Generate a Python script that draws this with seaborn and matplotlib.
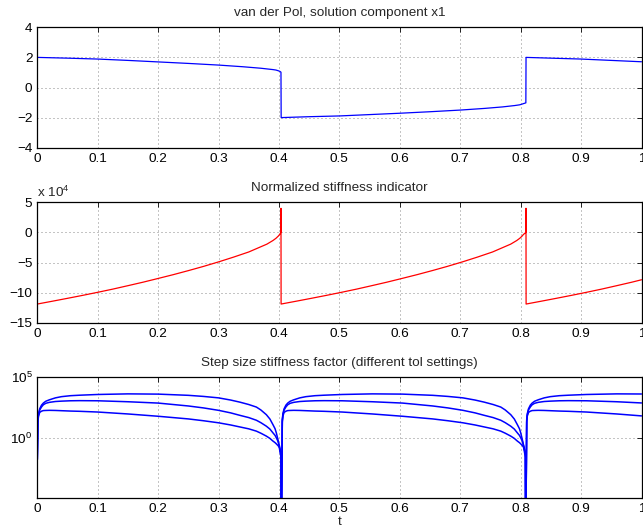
import matplotlib
matplotlib.use("Agg")
import matplotlib.pyplot as plt
from matplotlib.ticker import FixedLocator, NullLocator, LogFormatterMathtext
import seaborn as sns

# ---------------- data ----------------
# Panel 1: van der Pol solution component x1
t_x1 = [0.0, 0.05, 0.10, 0.15, 0.20, 0.25, 0.30, 0.34, 0.37, 0.39, 0.395, 0.399, 0.4015, 0.4033,
        0.4036, 0.45, 0.50, 0.55, 0.60, 0.65, 0.70, 0.74, 0.77, 0.79, 0.7985, 0.8025, 0.8055, 0.8086,
        0.8089, 0.85, 0.90, 0.95, 1.00]
x1 = [2.00, 1.95, 1.89, 1.80, 1.70, 1.60, 1.49, 1.38, 1.28, 1.19, 1.16, 1.11, 1.07, 1.02,
      -2.00, -1.94, -1.89, -1.80, -1.71, -1.61, -1.50, -1.39, -1.29, -1.20, -1.15, -1.10, -1.06, -1.02,
      2.00, 1.95, 1.89, 1.80, 1.71]

# Panel 2: normalized stiffness indicator (units of 1e4)
t_stiff = [0.0, 0.025, 0.05, 0.075, 0.10, 0.125, 0.15, 0.175, 0.20, 0.225, 0.25, 0.275,
           0.30, 0.325, 0.35, 0.365, 0.38, 0.39, 0.395, 0.399, 0.401, 0.4032,
           0.4033,
           0.4035, 0.4285, 0.4535, 0.4785, 0.5035, 0.5285, 0.5535, 0.5785, 0.6035, 0.6285,
           0.6535, 0.6785, 0.7035, 0.7285, 0.7535, 0.7685, 0.7835, 0.7935, 0.7985, 0.8025,
           0.8045, 0.8087,
           0.8088,
           0.8090, 0.8340, 0.8590, 0.8840, 0.9090, 0.9340, 0.9590, 0.9840, 1.0]
stiff_x1e4 = [-11.9, -11.43, -10.95, -10.46, -9.95, -9.42, -8.85, -8.27, -7.65, -7.02, -6.35, -5.65,
              -4.9, -4.1, -3.25, -2.6, -1.95, -1.35, -0.98, -0.6, -0.35, 0.0,
              4.0,
              -11.9, -11.43, -10.95, -10.46, -9.95, -9.42, -8.85, -8.27, -7.65, -7.02,
              -6.35, -5.65, -4.9, -4.1, -3.25, -2.6, -1.95, -1.35, -0.98, -0.6,
              -0.35, 0.0,
              4.0,
              -11.9, -11.43, -10.95, -10.46, -9.95, -9.42, -8.85, -8.27, -7.87]

# Panel 3: step size stiffness factor for three tolerance settings (log10 values)
t_factor = [0.0,
            0.0010, 0.0020, 0.0040, 0.0070, 0.0100, 0.0140, 0.0200, 0.0300, 0.0400, 0.0550,
            0.0700, 0.1000, 0.1500, 0.2000, 0.2500, 0.2750, 0.3000, 0.3200, 0.3350, 0.3500,
            0.3626, 0.3700, 0.3791, 0.3850, 0.3900, 0.3935, 0.3956, 0.3985, 0.4010, 0.4033,
            0.4036, 0.4042,
            0.4055, 0.4065, 0.4085, 0.4115, 0.4145, 0.4185, 0.4245, 0.4345, 0.4445, 0.4595,
            0.4745, 0.5045, 0.5545, 0.6045, 0.6545, 0.6795, 0.7045, 0.7245, 0.7395, 0.7545,
            0.7671, 0.7745, 0.7836, 0.7895, 0.7945, 0.7980, 0.8001, 0.8030, 0.8055, 0.8078,
            0.8081, 0.8087,
            0.8100, 0.8110, 0.8130, 0.8160, 0.8190, 0.8230, 0.8290, 0.8390, 0.8490, 0.8640,
            0.8790, 0.9090, 0.9590, 1.0]
factor_tol_loose_log10 = [
    -1.8,
    1.5, 2.0, 2.4, 2.7, 2.87, 3.02, 3.14, 3.30, 3.40, 3.48,
    3.52, 3.58, 3.63, 3.61, 3.51, 3.42, 3.30, 3.12, 2.95, 2.75,
    2.54, 2.30, 1.91, 1.55, 1.09, 0.75, 0.41, -0.2, -0.96, -1.6,
    -7.0, -7.0,
    1.5, 2.0, 2.4, 2.7, 2.87, 3.02, 3.14, 3.30, 3.40, 3.48,
    3.52, 3.58, 3.63, 3.61, 3.51, 3.42, 3.30, 3.12, 2.95, 2.75,
    2.54, 2.30, 1.91, 1.55, 1.09, 0.75, 0.41, -0.2, -0.96, -1.6,
    -7.0, -7.0,
    1.5, 2.0, 2.4, 2.7, 2.87, 3.02, 3.14, 3.30, 3.40, 3.48,
    3.52, 3.58, 3.63, 3.62]
factor_tol_mid_log10 = [
    -1.8,
    1.4, 1.9, 2.3, 2.55, 2.73, 2.85, 2.93, 3.00, 3.03, 3.06,
    3.07, 3.06, 2.98, 2.87, 2.63, 2.47, 2.27, 2.06, 1.86, 1.67,
    1.45, 1.25, 0.96, 0.72, 0.41, 0.2, 0.0, -0.3, -0.7, -1.4,
    -7.0, -7.0,
    1.4, 1.9, 2.3, 2.55, 2.73, 2.85, 2.93, 3.00, 3.03, 3.06,
    3.07, 3.06, 2.98, 2.87, 2.63, 2.47, 2.27, 2.06, 1.86, 1.67,
    1.45, 1.25, 0.96, 0.72, 0.41, 0.2, 0.0, -0.3, -0.7, -1.4,
    -7.0, -7.0,
    1.4, 1.9, 2.3, 2.55, 2.73, 2.85, 2.93, 3.00, 3.03, 3.06,
    3.07, 3.06, 2.98, 2.88]
factor_tol_tight_log10 = [
    -1.8,
    1.3, 1.8, 2.1, 2.2, 2.25, 2.26, 2.27, 2.26, 2.24, 2.21,
    2.19, 2.13, 1.97, 1.78, 1.56, 1.41, 1.24, 1.06, 0.90, 0.74,
    0.55, 0.38, 0.14, -0.05, -0.27, -0.4, -0.5, -0.65, -0.82, -1.3,
    -7.0, -7.0,
    1.3, 1.8, 2.1, 2.2, 2.25, 2.26, 2.27, 2.26, 2.24, 2.21,
    2.19, 2.13, 1.97, 1.78, 1.56, 1.41, 1.24, 1.06, 0.90, 0.74,
    0.55, 0.38, 0.14, -0.05, -0.27, -0.4, -0.5, -0.65, -0.82, -1.3,
    -7.0, -7.0,
    1.3, 1.8, 2.1, 2.2, 2.25, 2.26, 2.27, 2.26, 2.24, 2.21,
    2.19, 2.13, 1.97, 1.81]

titles = ["van der Pol, solution component x1",
          "Normalized stiffness indicator",
          "Step size stiffness factor (different tol settings)"]
x_ticks = [0, 0.1, 0.2, 0.3, 0.4, 0.5, 0.6, 0.7, 0.8, 0.9, 1]
x_tick_labels = ["0", "0.1", "0.2", "0.3", "0.4", "0.5", "0.6", "0.7", "0.8", "0.9", "1"]

# ---------------- style ----------------
sns.set_style("white")
plt.rcParams["font.family"] = ["Liberation Sans", "DejaVu Sans"]
plt.rcParams["mathtext.fontset"] = "custom"
plt.rcParams["mathtext.rm"] = "Liberation Sans"
plt.rcParams["mathtext.it"] = "Liberation Sans"
FS = 9.7

fig = plt.figure(figsize=(6.43, 5.30), dpi=100)
W, H = 643.0, 530.0
left = 37.3 / W
width = (641.5 - 37.3) / W
boxes = [(27.3, 147.7), (202.3, 322.7), (377.3, 498.3)]
axes = []
for top, bot in boxes:
    axes.append(fig.add_axes([left, 1 - bot / H, width, (bot - top) / H]))

grid_kw = dict(color="0.45", linestyle=(0, (1.2, 3.6)), linewidth=0.6)


def style(ax, title):
    ax.set_xlim(0, 1)
    ax.xaxis.set_major_locator(FixedLocator(x_ticks))
    ax.set_xticklabels(x_tick_labels)
    ax.tick_params(axis="both", which="major", direction="in", length=3.5, width=0.6,
                   top=True, right=True, labelsize=FS, colors="black")
    ax.tick_params(axis="x", pad=3.6)
    ax.tick_params(axis="y", pad=3.5)
    ax.tick_params(axis="both", which="minor", length=0)
    for sp in ax.spines.values():
        sp.set_color("black")
        sp.set_linewidth(0.9)
        sp.set_visible(True)
    ax.grid(True, **grid_kw)
    ax.set_axisbelow(True)
    ax.set_title(title, fontsize=FS, pad=8.3)
    ax.set_xlabel("")
    ax.set_ylabel("")


# Panel 1
ax = axes[0]
sns.lineplot(x=t_x1, y=x1, ax=ax, color=(0, 0, 1), linewidth=0.9,
             estimator=None, sort=False)
ax.set_ylim(-4, 4)
ax.set_yticks([-4, -2, 0, 2, 4])
style(ax, titles[0])

# Panel 2
ax = axes[1]
sns.lineplot(x=t_stiff, y=stiff_x1e4, ax=ax, color=(1, 0, 0), linewidth=0.9,
             estimator=None, sort=False)
ax.set_ylim(-15, 5)
ax.set_yticks([-15, -10, -5, 0, 5])
style(ax, titles[1])
ax.text(0.0, 1.042, r"x 10$^{4}$", transform=ax.transAxes, fontsize=FS,
        ha="left", va="baseline")

# Panel 3
ax = axes[2]
for series in (factor_tol_loose_log10, factor_tol_mid_log10, factor_tol_tight_log10):
    vals = [10.0 ** v for v in series]
    sns.lineplot(x=t_factor, y=vals, ax=ax, color=(0, 0, 1), linewidth=1.1,
                 estimator=None, sort=False)
ax.set_yscale("log")
ax.set_ylim(1e-5, 1e5)
ax.yaxis.set_major_locator(FixedLocator([1e0, 1e5]))
ax.yaxis.set_major_formatter(LogFormatterMathtext())
ax.yaxis.set_minor_locator(NullLocator())
style(ax, titles[2])
ax.set_xlabel("t", fontsize=FS, labelpad=0.5)

fig.savefig("out.png", dpi=100)
